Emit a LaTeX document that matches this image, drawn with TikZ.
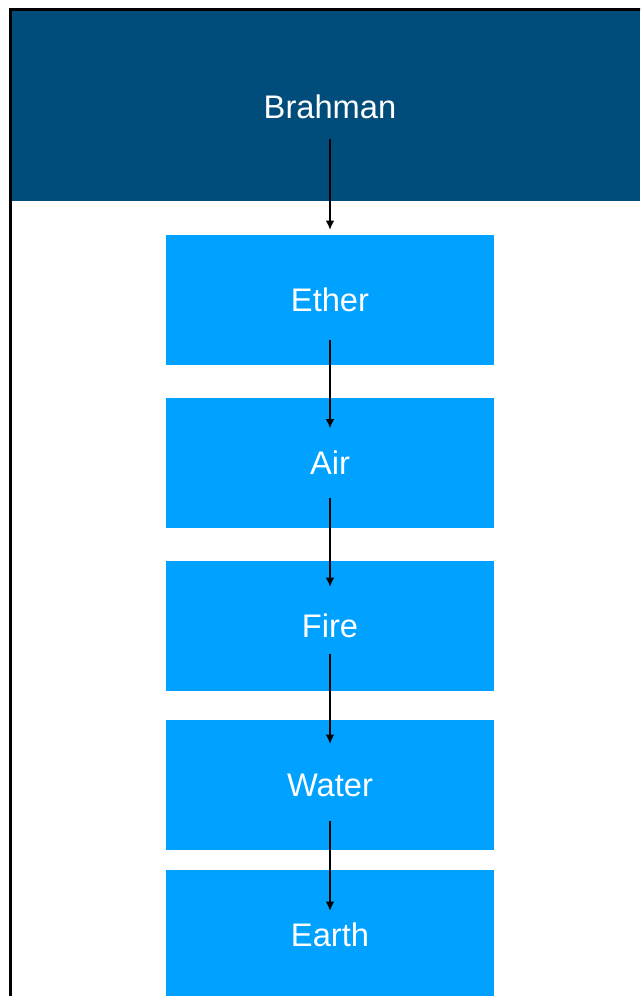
\documentclass[tikz,border=0pt]{standalone}
\usepackage{fontspec}
\setmainfont{Liberation Sans}
\usetikzlibrary{arrows.meta,calc}
\definecolor{hdr}{RGB}{0,77,124}
\definecolor{boxc}{RGB}{0,161,255}
\begin{document}
\begin{tikzpicture}[x=0.75pt,y=-0.75pt,
  lbl/.style={text=white, inner sep=0pt, font=\fontsize{24.5}{29}\selectfont, text height=17.5pt, text depth=0pt},
  elem/.style={lbl, fill=boxc, minimum width=246pt, minimum height=97.5pt},
  arr/.style={draw=black, line width=1.5pt, -{Latex[length=7pt,width=6.5pt]}}]
\clip (0,0) rectangle (640,996);
\fill[white] (0,0) rectangle (640,996);
% header band
\fill[hdr] (12,11) rectangle (640,201);
% frame
\draw[line width=2.25pt] (10.5,1000) -- (10.5,9.5) -- (645,9.5);
% nodes
\node[lbl] (brahman) at (330,107) {Brahman};
\node[elem] (ether) at (330,300) {Ether};
\node[elem] (air) at (330,462.5) {Air};
\node[elem] (fire) at (330,626) {Fire};
\node[elem] (water) at (330,785) {Water};
\node[elem] (earth) at (330,935) {Earth};
% connectors
\draw[arr] ($(brahman.center)+(0,32)$) -- ($(ether.center)+(0,-70)$);
\draw[arr] ($(ether.center)+(0,40)$) -- ($(air.center)+(0,-34)$);
\draw[arr] ($(air.center)+(0,35)$) -- ($(fire.center)+(0,-39)$);
\draw[arr] ($(fire.center)+(0,28)$) -- ($(water.center)+(0,-41)$);
\draw[arr] ($(water.center)+(0,36)$) -- ($(earth.center)+(0,-24)$);
\end{tikzpicture}
\end{document}
